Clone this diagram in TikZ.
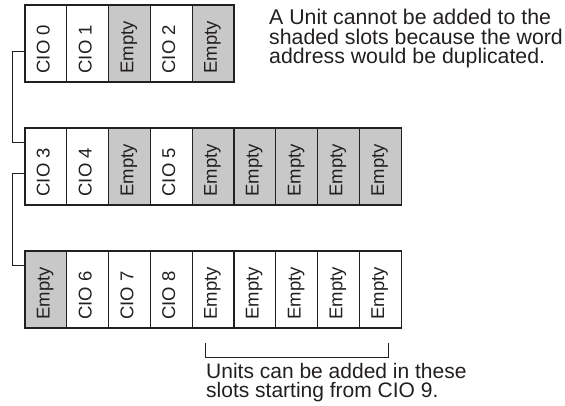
\documentclass[tikz,border=0pt]{standalone}
\usepackage{fontspec}
\setmainfont{Liberation Sans}
\usepackage{graphicx}
\usetikzlibrary{calc}

\definecolor{slotgray}{RGB}{200,200,200}
\definecolor{inkdark}{RGB}{35,31,32}

% rotated slot text, starting near the bottom of the slot
\newcommand{\vlabel}[1]{\rotatebox{90}{\makebox[60pt][l]{\strut #1}}}

\begin{document}
\begin{tikzpicture}[x=1pt,y=-1pt,
    slot/.style={draw=inkdark, line width=1.2pt, fill=white, rectangle,
      minimum width=41.8pt, minimum height=77pt, inner sep=0pt, outer sep=0pt,
      text=inkdark, font=\fontsize{18.5}{19}\selectfont},
    shaded/.style={slot, fill=slotgray},
    link/.style={draw=inkdark, line width=1pt},
    note/.style={anchor=north west, align=left, inner sep=0pt, text=inkdark}]
  \useasboundingbox (0,0) rectangle (565,406);

  % Rack 1
  \node[slot]   (r1s0) at (45.9,43.5)  {\vlabel{CIO 0}};
  \node[slot]   (r1s1) at (87.7,43.5)  {\vlabel{CIO 1}};
  \node[shaded] (r1s2) at (129.5,43.5) {\vlabel{Empty}};
  \node[slot]   (r1s3) at (171.3,43.5) {\vlabel{CIO 2}};
  \node[shaded] (r1s4) at (213.1,43.5) {\vlabel{Empty}};

  % Rack 2
  \node[slot]   (r2s0) at (45.9,166.5)  {\vlabel{CIO 3}};
  \node[slot]   (r2s1) at (87.7,166.5)  {\vlabel{CIO 4}};
  \node[shaded] (r2s2) at (129.5,166.5) {\vlabel{Empty}};
  \node[slot]   (r2s3) at (171.3,166.5) {\vlabel{CIO 5}};
  \node[shaded] (r2s4) at (213.1,166.5) {\vlabel{Empty}};
  \node[shaded] (r2s5) at (254.9,166.5) {\vlabel{Empty}};
  \node[shaded] (r2s6) at (296.7,166.5) {\vlabel{Empty}};
  \node[shaded] (r2s7) at (338.5,166.5) {\vlabel{Empty}};
  \node[shaded] (r2s8) at (380.3,166.5) {\vlabel{Empty}};

  % Rack 3
  \node[shaded] (r3s0) at (45.9,289.5)  {\vlabel{Empty}};
  \node[slot]   (r3s1) at (87.7,289.5)  {\vlabel{CIO 6}};
  \node[slot]   (r3s2) at (129.5,289.5) {\vlabel{CIO 7}};
  \node[slot]   (r3s3) at (171.3,289.5) {\vlabel{CIO 8}};
  \node[slot]   (r3s4) at (213.1,289.5) {\vlabel{Empty}};
  \node[slot]   (r3s5) at (254.9,289.5) {\vlabel{Empty}};
  \node[slot]   (r3s6) at (296.7,289.5) {\vlabel{Empty}};
  \node[slot]   (r3s7) at (338.5,289.5) {\vlabel{Empty}};
  \node[slot]   (r3s8) at (380.3,289.5) {\vlabel{Empty}};

  % Cables between racks
  \draw[link] ([yshift=-8.5pt]r1s0.west) -- ++(-12.5,0) |- ([yshift=23.5pt]r2s0.west);
  \draw[link] ([yshift=-7.5pt]r2s0.west) -- ++(-12.5,0) |- ([yshift=24.5pt]r3s0.west);

  % Bracket under the free slots
  \draw[link] ([xshift=13pt,yshift=-15pt]r3s4.south west) -- ++(0,14)
    -| ([xshift=-13pt,yshift=-15pt]r3s8.south east);

  % Notes
  \node[note, font=\fontsize{21.3}{19.5}\selectfont] (topnote) at (269,9)
    {A Unit cannot be added to the\\shaded slots because the word\\address would be duplicated.};
  \node[note, font=\fontsize{21}{19}\selectfont] (freenote) at (206,363)
    {Units can be added in these\\slots starting from CIO 9.};
\end{tikzpicture}
\end{document}
